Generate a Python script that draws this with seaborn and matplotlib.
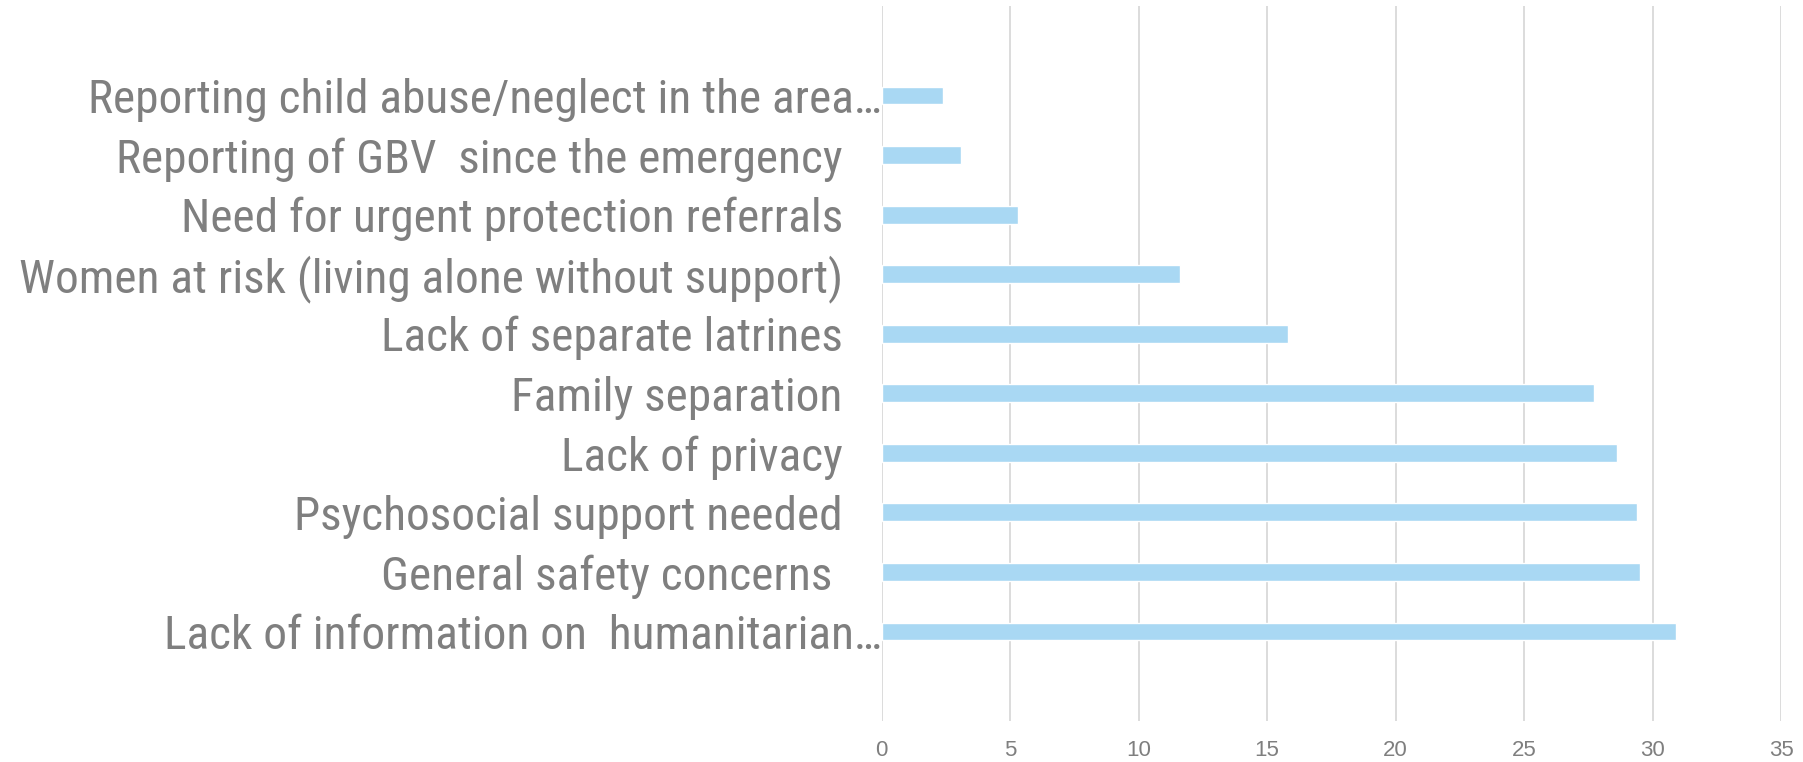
import matplotlib
matplotlib.use("Agg")
import matplotlib.pyplot as plt
import seaborn as sns
import pandas as pd

categories = [
    "Reporting child abuse/neglect in the area\u2026",
    "Reporting of GBV  since the emergency",
    "Need for urgent protection referrals",
    "Women at risk (living alone without support)",
    "Lack of separate latrines",
    "Family separation",
    "Lack of privacy",
    "Psychosocial support needed",
    "General safety concerns ",
    "Lack of information on  humanitarian\u2026",
]
values = [2.4, 3.1, 5.3, 11.6, 15.8, 27.7, 28.6, 29.4, 29.5, 30.9]
x_ticks = [0, 5, 10, 15, 20, 25, 30, 35]

df = pd.DataFrame({"category": categories, "value": values})

sns.set_theme(style="white")
plt.rcParams['font.family'] = ['Liberation Sans', 'DejaVu Sans']

fig = plt.figure(figsize=(18.03, 7.62), dpi=100)
ax = fig.add_axes([0.489, 0.054, 0.4989, 0.938])

sns.barplot(data=df, x="value", y="category", orient="h", color="#A9D8F3",
            width=0.3, saturation=1, ax=ax)

ax.set_xlim(0, 35)
ax.set_ylim(len(categories) - 1 + 1.5, -1.5)
ax.set_xticks(x_ticks)
ax.set_xticklabels([str(t) for t in x_ticks], fontsize=16, color="#7F7F7F",
                   family=['Liberation Sans', 'DejaVu Sans'])
ax.xaxis.grid(True, color="#D9D9D9", linewidth=1.3)
ax.set_axisbelow(True)
for s in ["top", "right", "bottom", "left"]:
    ax.spines[s].set_visible(False)
ax.set_xlabel("")
ax.set_ylabel("")

ax.tick_params(axis="x", length=0, pad=14)
ax.tick_params(axis="y", length=0)
ax.set_yticks(range(len(categories)))
ax.set_yticklabels(categories, fontsize=34, color="#7F7F7F",
                   family=['Roboto Condensed', 'Liberation Sans', 'DejaVu Sans'])
ticks = ax.yaxis.get_major_ticks()
for i, t in enumerate(ticks):
    if categories[i].endswith("\u2026"):
        t.set_pad(0)
    else:
        t.set_pad(28)

fig.savefig("out.png", dpi=100, facecolor="white")
